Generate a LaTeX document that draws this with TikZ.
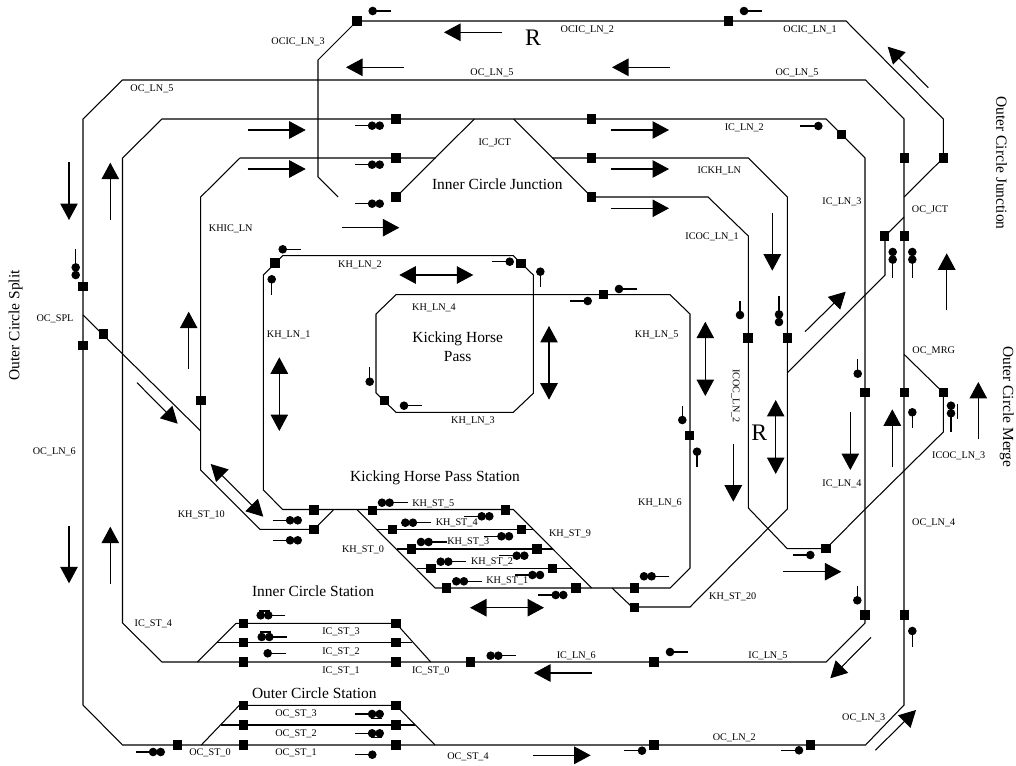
\documentclass[tikz,border=0pt]{standalone}
\usepackage{fontspec}
\setmainfont{Liberation Serif}
\usetikzlibrary{arrows.meta, positioning}

\begin{document}
\begin{tikzpicture}[
  x=.02cm, y=-.02cm,
  trk/.style={line width=.6pt},
  blk/.style={fill=black, draw=none, rectangle, minimum size=.185cm, inner sep=0pt},
  arr/.style={-{Triangle[length=.33cm,width=.35cm]}, line width=.6pt},
  darr/.style={{Triangle[length=.33cm,width=.35cm]}-{Triangle[length=.33cm,width=.35cm]}, line width=.6pt},
  sigone/.style={-{Circle[length=.17cm]}, line width=.6pt, shorten >=-.085cm},
  sigtwo/.style={-{Circle[length=.17cm,sep=-.018cm]Circle[length=.17cm]}, line width=.6pt, shorten >=-.085cm},
  lbl/.style={inner sep=0pt, font=\fontsize{5.8}{7}\selectfont},
  ttl/.style={inner sep=0pt, align=center, font=\fontsize{8.8}{11}\selectfont},
  bigr/.style={inner sep=0pt, font=\fontsize{13.5}{15}\selectfont}
]
  \useasboundingbox (0,0) rectangle (1016,766);

  \draw[trk] (83,119) -- (122.5,80) -- (865.5,80) -- (904,119) -- (904,705) -- (865.5,745) -- (122.5,745) -- (83,705) -- cycle;
  \draw[trk] (122.5,158) -- (162,119) -- (826,119) -- (865,158) -- (865,623) -- (826,662) -- (162,662) -- (122.5,623) -- cycle;
  \draw[trk] (338,197) -- (318,177) -- (318,60) -- (357,21) -- (846,21) -- (943.3,119) -- (943.3,158) -- (904,197);
  \draw[trk] (435.7,158) -- (240,158) -- (200.7,197) -- (200.7,470) -- (260,529.3) -- (314,529.3) -- (333.3,510);
  \draw[trk] (474.3,119) -- (396,197);
  \draw[trk] (513.7,119) -- (591.7,197) -- (708,197) -- (748.3,236) -- (748.3,508) -- (787.3,548.7) -- (826,548.7) -- (865,509.3);
  \draw[trk] (865,509.3) -- (943.3,432) -- (943.3,392.7) -- (904,354.3);
  \draw[trk] (552.3,158) -- (748.3,158) -- (787.3,197) -- (787.3,509) -- (690,607) -- (632,607) -- (612,588);
  \draw[trk] (787.3,372.7) -- (885,275) -- (885,236) -- (904,217);
  \draw[trk] (83,315) -- (200.7,431);

  \draw[trk] (263.3,275) -- (282.7,255.7) -- (513.3,255.7) -- (533.3,275) -- (533.3,393.3) -- (513.3,412.3) -- (396,412.3) -- (376,393) -- (376,314) -- (396,294.7) -- (670,294.7) -- (690,314) -- (690,568) -- (670,588) -- (435,588) -- (357.3,510);
  \draw[trk] (263.3,275) -- (263.3,490) -- (282.7,509.5) -- (513.3,509.5) -- (591.7,588);
  \draw[trk] (376.7,529.5) -- (533.3,529.5);
  \draw[trk] (397,549) -- (552.7,549);
  \draw[trk] (416.7,568.5) -- (571.7,568.5);

  \draw[trk] (197.3,662) -- (236,623.3) -- (396,623.3) -- (430.7,662);
  \draw[trk] (216.7,642.7) -- (411.7,642.7);
  \draw[trk] (201.3,745) -- (239.3,705.3) -- (396,705.3) -- (435,745);
  \draw[trk] (220.7,725) -- (415,725);

  \node[blk] (b1) at (357,21) {};
  \node[blk] (b2) at (728.3,21) {};
  \node[blk] (b3) at (396,119) {};
  \node[blk] (b4) at (396,158) {};
  \node[blk] (b5) at (396,197) {};
  \node[blk] (b6) at (591.7,119) {};
  \node[blk] (b7) at (591.7,158) {};
  \node[blk] (b8) at (591.7,197) {};
  \node[blk] (b9) at (841.7,134.3) {};
  \node[blk] (b10) at (904.3,158) {};
  \node[blk] (b11) at (943.3,158) {};
  \node[blk] (b12) at (884.3,236) {};
  \node[blk] (b13) at (904.3,236) {};
  \node[blk] (b14) at (748,338) {};
  \node[blk] (b15) at (787.3,338) {};
  \node[blk] (b16) at (865,392.7) {};
  \node[blk] (b17) at (904.3,392.7) {};
  \node[blk] (b18) at (943.3,392.7) {};
  \node[blk] (b19) at (689.3,435.3) {};
  \node[blk] (b20) at (826,548.7) {};
  \node[blk] (b21) at (865,615) {};
  \node[blk] (b22) at (904.3,615) {};
  \node[blk] (b23) at (83,286.7) {};
  \node[blk] (b24) at (83,345.7) {};
  \node[blk] (b25) at (103.3,334) {};
  \node[blk] (b26) at (201,400.7) {};
  \node[blk] (b27) at (275,263) {};
  \node[blk] (b28) at (521,263.3) {};
  \node[blk] (b29) at (603.3,294.7) {};
  \node[blk] (b30) at (384.3,400.3) {};
  \node[blk] (b31) at (314,510) {};
  \node[blk] (b32) at (314,529.3) {};
  \node[blk] (b33) at (372.7,510.5) {};
  \node[blk] (b34) at (505.7,510) {};
  \node[blk] (b35) at (392.3,529.5) {};
  \node[blk] (b36) at (521.3,529.5) {};
  \node[blk] (b37) at (411.7,549) {};
  \node[blk] (b38) at (537,549) {};
  \node[blk] (b39) at (431,568.5) {};
  \node[blk] (b40) at (552.3,568.5) {};
  \node[blk] (b41) at (446.7,588) {};
  \node[blk] (b42) at (576,588) {};
  \node[blk] (b43) at (634.3,588) {};
  \node[blk] (b44) at (634.3,607.3) {};
  \node[blk] (b45) at (243.7,623.3) {};
  \node[blk] (b46) at (243.7,642.7) {};
  \node[blk] (b47) at (243.7,662) {};
  \node[blk] (b48) at (396,623.3) {};
  \node[blk] (b49) at (396,642.7) {};
  \node[blk] (b50) at (396,662) {};
  \node[blk] (b51) at (470.3,662) {};
  \node[blk] (b52) at (654,662) {};
  \node[blk] (b53) at (243.7,705.3) {};
  \node[blk] (b54) at (243.7,725) {};
  \node[blk] (b55) at (243.7,745) {};
  \node[blk] (b56) at (396,705.3) {};
  \node[blk] (b57) at (396,725) {};
  \node[blk] (b58) at (396,745) {};
  \node[blk] (b59) at (177.3,745) {};
  \node[blk] (b60) at (654,745) {};
  \node[blk] (b61) at (810.3,745) {};

  \draw[sigone] (390.7,11) -- (372.7,11);
  \draw[sigone] (762.3,11) -- (744,11);
  \draw[sigtwo] (355,125.7) -- (379.7,125.7);
  \draw[sigtwo] (355,164.7) -- (379.7,164.7);
  \draw[sigtwo] (355,203.7) -- (379.7,203.7);
  \draw[sigone] (800,126) -- (818.3,126);
  \draw[sigtwo] (892.7,278) -- (892.7,252);
  \draw[sigtwo] (912.3,278) -- (912.3,252);
  \draw[sigone] (740,300.7) -- (740,315);
  \draw[sigtwo] (779,296) -- (779,322);
  \draw[sigone] (857.7,359) -- (857.7,373.7);
  \draw[sigone] (912.3,427.7) -- (912.3,412.3);
  \draw[sigtwo] (951,431.7) -- (951,405.7);
  \draw[trk] (957.3,404) -- (957.3,419);
  \draw[sigone] (682.3,406) -- (682.3,420);
  \draw[sigone] (697,466.7) -- (697,451.7);
  \draw[sigone] (491.7,261.7) -- (509.7,261.7);
  \draw[sigone] (540.3,286.7) -- (540.3,271.7);
  \draw[sigone] (570,301) -- (587.7,301);
  \draw[sigone] (637.3,289) -- (619,289);
  \draw[sigone] (369.7,367.3) -- (369.7,381.7);
  \draw[sigone] (422.3,405.7) -- (404,405.7);
  \draw[sigtwo] (75.7,249) -- (75.7,275);
  \draw[sigone] (271.7,295) -- (271.7,279.3);
  \draw[sigone] (300.7,249.3) -- (282.7,249.3);
  \draw[sigtwo] (272.7,520.3) -- (297.7,520.3);
  \draw[sigtwo] (272.7,540.3) -- (297.7,540.3);
  \draw[sigtwo] (136,752) -- (160.7,752);
  \draw[sigtwo] (285,615.3) -- (260.7,615.3);
  \draw[trk] (259,611) -- (270,611);
  \draw[sigtwo] (286.7,637) -- (261.7,637);
  \draw[trk] (259.5,632) -- (271,632);
  \draw[sigone] (285.7,653.3) -- (267.7,653.3);
  \draw[sigtwo] (355,714) -- (379.7,714);
  \draw[trk] (370.7,718.3) -- (381.7,718.3);
  \draw[sigtwo] (355,733.3) -- (379.7,733.3);
  \draw[trk] (370.7,737.7) -- (381.7,737.7);
  \draw[sigone] (355,754.7) -- (372.3,754.7);
  \draw[sigtwo] (431,522.7) -- (405.3,522.7);
  \draw[sigtwo] (446.7,542) -- (421,542);
  \draw[sigtwo] (466,561.7) -- (440.7,561.7);
  \draw[sigtwo] (481.7,581.3) -- (456.3,581.3);
  \draw[sigtwo] (407.7,502.7) -- (382,502.7);
  \draw[sigtwo] (464,516.3) -- (489.3,516.3);
  \draw[sigtwo] (484,536.3) -- (509,536.3);
  \draw[sigtwo] (499.3,555.7) -- (524.3,555.7);
  \draw[sigtwo] (515,575) -- (540,575);
  \draw[sigtwo] (538.3,595) -- (563.3,595);
  \draw[sigtwo] (669.3,576.3) -- (644,576.3);
  \draw[sigtwo] (515.7,655.7) -- (490.7,655.7);
  \draw[sigone] (687.7,652) -- (670,652);
  \draw[sigone] (624.3,750.7) -- (642,750.7);
  \draw[sigone] (792.7,555) -- (810.3,555);
  \draw[sigone] (857.3,586) -- (857.3,600.3);
  \draw[sigone] (912.3,646.7) -- (912.3,631);
  \draw[sigone] (781,750.3) -- (799,750.3);

  \draw[arr] (69,162.3) -- (69,220);
  \draw[arr] (110.3,220) -- (110.3,162.7);
  \draw[arr] (247.7,130) -- (305.7,130);
  \draw[arr] (247.7,169) -- (305.7,169);
  \draw[arr] (501.7,32.3) -- (444,32.3);
  \draw[arr] (403.7,67.3) -- (346,67.3);
  \draw[arr] (669.7,67.3) -- (612,67.3);
  \draw[arr] (611.3,130) -- (669,130);
  \draw[arr] (611.3,169) -- (669,169);
  \draw[arr] (611.3,208.3) -- (669,208.3);
  \draw[arr] (341.7,227.7) -- (399.3,227.7);
  \draw[arr] (928.3,87.7) -- (887.7,46.7);
  \draw[arr] (772.3,213.3) -- (772.3,270.7);
  \draw[arr] (946.7,310) -- (946.7,253.3);
  \draw[arr] (805,331.7) -- (845.7,291.7);
  \draw[darr] (705.3,321.7) -- (705.3,396);
  \draw[darr] (775.7,400) -- (775.7,474);
  \draw[arr] (733.3,444) -- (733.3,501.7);
  \draw[arr] (850.3,412.3) -- (850.3,470);
  \draw[arr] (892.3,466.7) -- (892.3,409.3);
  \draw[arr] (978.3,439.3) -- (978.3,382);
  \draw[arr] (188.7,369) -- (188.7,311.7);
  \draw[arr] (137,382.7) -- (177.7,423.7);
  \draw[darr] (279.3,357.3) -- (279.3,431);
  \draw[darr] (210.7,464) -- (263.3,516.7);
  \draw[darr] (399.3,275) -- (473.3,275);
  \draw[darr] (549,326) -- (549,399.7);
  \draw[arr] (69,526) -- (69,583.3);
  \draw[arr] (110.3,583.7) -- (110.3,526.7);
  \draw[darr] (470,607.7) -- (544,607.7);
  \draw[arr] (591.7,673) -- (534,673);
  \draw[arr] (533,755.3) -- (590.7,755.3);
  \draw[arr] (783.3,571.7) -- (841.3,571.7);
  \draw[arr] (871,637.3) -- (830.3,678.3);
  \draw[arr] (875.3,750.3) -- (916,710);

  \node[lbl] (ocic3) at (298,41.7) {OCIC\_LN\_3};
  \node[lbl] (ocic2) at (587.3,29.3) {OCIC\_LN\_2};
  \node[lbl] (ocic1) at (810,29.3) {OCIC\_LN\_1};
  \node[lbl] (oc5a) at (152,88.7) {OC\_LN\_5};
  \node[lbl] (oc5b) at (492,72.7) {OC\_LN\_5};
  \node[lbl] (oc5c) at (797,72.7) {OC\_LN\_5};
  \node[lbl] (khic) at (230.7,228.7) {KHIC\_LN};
  \node[lbl] (icjct) at (494.7,142.7) {IC\_JCT};
  \node[lbl] (ic2) at (744.3,127.3) {IC\_LN\_2};
  \node[lbl] (ickh) at (719.3,170.7) {ICKH\_LN};
  \node[lbl] (ic3) at (842,201.7) {IC\_LN\_3};
  \node[lbl] (ocjct) at (930,209.7) {OC\_JCT};
  \node[lbl] (icoc1) at (712,236.7) {ICOC\_LN\_1};
  \node[lbl, rotate=-90] (icoc2) at (735.7,396) {ICOC\_LN\_2};
  \node[lbl] (icoc3) at (958.7,455.7) {ICOC\_LN\_3};
  \node[lbl] (ocmrg) at (933.7,350.7) {OC\_MRG};
  \node[lbl] (ic4) at (842,484) {IC\_LN\_4};
  \node[lbl] (ic5) at (768,655.7) {IC\_LN\_5};
  \node[lbl] (ic6) at (576.3,655.7) {IC\_LN\_6};
  \node[lbl] (ocspl) at (55,318.7) {OC\_SPL};
  \node[lbl] (oc6) at (54.3,451.7) {OC\_LN\_6};
  \node[lbl] (oc4) at (933.7,522.7) {OC\_LN\_4};
  \node[lbl] (oc3) at (863.7,717.7) {OC\_LN\_3};
  \node[lbl] (oc2) at (734.3,737.7) {OC\_LN\_2};
  \node[lbl] (kh1) at (288.7,334.7) {KH\_LN\_1};
  \node[lbl] (kh2) at (360,264.7) {KH\_LN\_2};
  \node[lbl] (kh3) at (473,421) {KH\_LN\_3};
  \node[lbl] (kh4) at (434,307.7) {KH\_LN\_4};
  \node[lbl] (kh5) at (656.7,334.7) {KH\_LN\_5};
  \node[lbl] (kh6) at (660,502.7) {KH\_LN\_6};
  \node[lbl] (khst5) at (433.3,503.3) {KH\_ST\_5};
  \node[lbl] (khst4) at (456.7,522.7) {KH\_ST\_4};
  \node[lbl] (khst3) at (468.3,541.3) {KH\_ST\_3};
  \node[lbl] (khst2) at (492,561.7) {KH\_ST\_2};
  \node[lbl] (khst1) at (507.3,581) {KH\_ST\_1};
  \node[lbl] (khst0) at (363,549.3) {KH\_ST\_0};
  \node[lbl] (khst9) at (570,533.7) {KH\_ST\_9};
  \node[lbl] (khst10) at (201.3,514.7) {KH\_ST\_10};
  \node[lbl] (khst20) at (732.7,596.7) {KH\_ST\_20};
  \node[lbl] (icst4) at (153.3,623.7) {IC\_ST\_4};
  \node[lbl] (icst3) at (341,632) {IC\_ST\_3};
  \node[lbl] (icst2) at (341,651.7) {IC\_ST\_2};
  \node[lbl] (icst1) at (341,670.7) {IC\_ST\_1};
  \node[lbl] (icst0) at (430.7,670.7) {IC\_ST\_0};
  \node[lbl] (ocst3) at (296,713.7) {OC\_ST\_3};
  \node[lbl] (ocst2) at (296,733.7) {OC\_ST\_2};
  \node[lbl] (ocst1) at (296,752.7) {OC\_ST\_1};
  \node[lbl] (ocst0) at (210,752.7) {OC\_ST\_0};
  \node[lbl] (ocst4) at (468,756.7) {OC\_ST\_4};

  \node[ttl] (tjct) at (497.3,184) {Inner Circle Junction};
  \node[ttl] (tpass) at (457.7,347) {Kicking Horse\\Pass};
  \node[ttl] (tkhst) at (435,478.3) {Kicking Horse Pass Station};
  \node[ttl] (tict) at (313,591) {Inner Circle Station};
  \node[ttl] (toct) at (314.3,693.3) {Outer Circle Station};
  \node[ttl, rotate=90] (tspl) at (15.7,325.3) {Outer Circle Split};
  \node[ttl, rotate=-90] (tocj) at (1001.7,163) {Outer Circle Junction};
  \node[ttl, rotate=-90] (tocm) at (1006.7,407) {Outer Circle Merge};
  \node[bigr] (rtop) at (533,37.7) {R};
  \node[bigr] (rmid) at (759.3,432.7) {R};
\end{tikzpicture}
\end{document}
